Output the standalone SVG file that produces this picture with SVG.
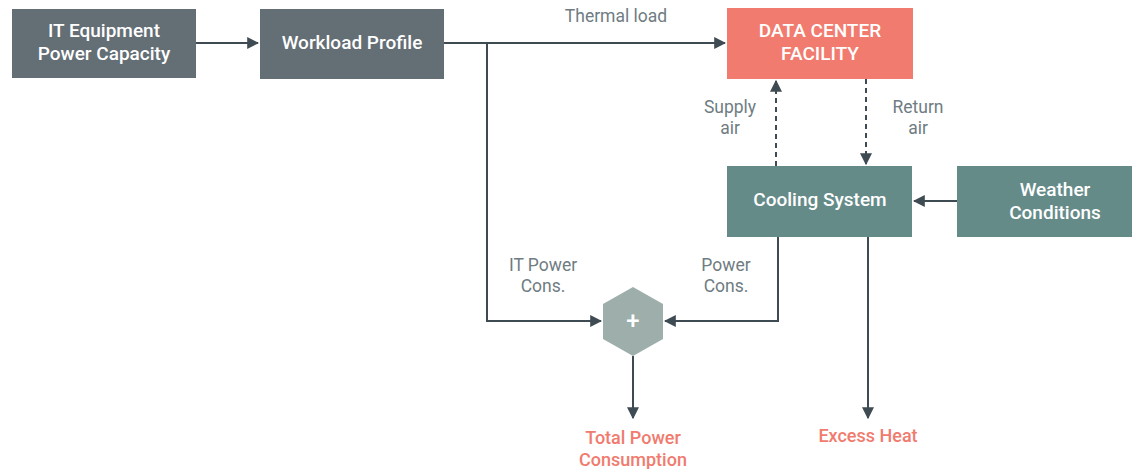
<svg xmlns="http://www.w3.org/2000/svg" width="1133" height="469" viewBox="0 0 1133 469">
<defs>
<style>
.box text{font-family:Roboto,"Liberation Sans",sans-serif;font-size:19px;font-weight:500;fill:#ffffff;text-anchor:middle}
.lbl{font-family:Roboto,"Liberation Sans",sans-serif;font-size:17.5px;font-weight:400;fill:#6f7c82;text-anchor:middle}
.out{font-family:Roboto,"Liberation Sans",sans-serif;font-size:18px;font-weight:500;fill:#f07b6e;text-anchor:middle}
.ln{fill:none;stroke:#3f4b52;stroke-width:2}
.dash{stroke-dasharray:5,4}
</style>
<marker id="ah" viewBox="0 0 10 10" refX="9" refY="5" markerWidth="6" markerHeight="6" orient="auto" markerUnits="strokeWidth">
<path d="M0,0 L10,5 L0,10 z" fill="#3f4b52"/>
</marker>
</defs>
<rect width="1133" height="469" fill="#ffffff"/>
<g id="connectors">
<path class="ln" d="M196,43 H258" marker-end="url(#ah)"/>
<path class="ln" d="M444,43 H725" marker-end="url(#ah)"/>
<path class="ln" d="M487,43 V321 H601" marker-end="url(#ah)"/>
<path class="ln dash" d="M776,166 V81" marker-end="url(#ah)"/>
<path class="ln dash" d="M866,79 V164" marker-end="url(#ah)"/>
<path class="ln" d="M957,201 H914" marker-end="url(#ah)"/>
<path class="ln" d="M778,237 V321 H665" marker-end="url(#ah)"/>
<path class="ln" d="M868,237 V418" marker-end="url(#ah)"/>
<path class="ln" d="M633,356 V418" marker-end="url(#ah)"/>
</g>
<g id="it-equipment" class="box">
<rect x="12" y="9" width="184" height="69" fill="#636e75"/>
<text x="104" y="37">IT Equipment</text>
<text x="104" y="60">Power Capacity</text>
</g>
<g id="workload" class="box">
<rect x="260" y="9" width="184" height="70" fill="#636e75"/>
<text x="352" y="49">Workload Profile</text>
</g>
<g id="facility" class="box">
<rect x="727" y="8" width="186" height="71" fill="#f07b6e"/>
<text x="820" y="37">DATA CENTER</text>
<text x="820" y="60">FACILITY</text>
</g>
<g id="cooling" class="box">
<rect x="727" y="166" width="185" height="71" fill="#658b89"/>
<text x="820" y="206">Cooling System</text>
</g>
<g id="weather" class="box">
<rect x="957" y="166" width="175" height="71" fill="#658b89"/>
<text x="1055" y="196">Weather</text>
<text x="1055" y="219">Conditions</text>
</g>
<g id="sum" class="box">
<polygon points="633,287 663,304 663,339 633,356 603,339 603,304" fill="#9eaeab"/>
<text x="633" y="329" style="font-size:24px">+</text>
</g>
<g id="labels">
<text class="lbl" x="616" y="22">Thermal load</text>
<text class="lbl" x="730" y="113">Supply</text>
<text class="lbl" x="730" y="134">air</text>
<text class="lbl" x="918" y="113">Return</text>
<text class="lbl" x="918" y="134">air</text>
<text class="lbl" x="543" y="271">IT Power</text>
<text class="lbl" x="543" y="292">Cons.</text>
<text class="lbl" x="726" y="271">Power</text>
<text class="lbl" x="726" y="292">Cons.</text>
</g>
<g id="total-power">
<text class="out" x="633" y="444">Total Power</text>
<text class="out" x="633" y="466">Consumption</text>
</g>
<g id="excess-heat">
<text class="out" x="868" y="442">Excess Heat</text>
</g>
</svg>
